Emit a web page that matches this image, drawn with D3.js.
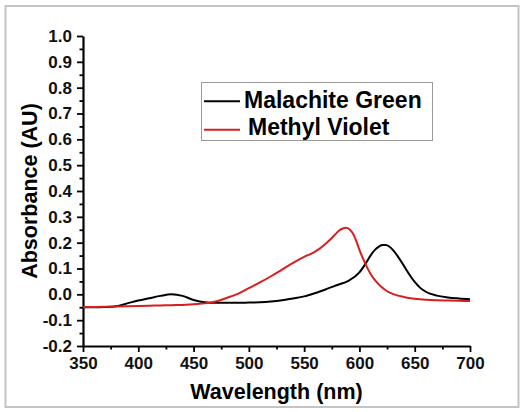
<!DOCTYPE html>
<html>
<head>
<meta charset="utf-8">
<script src="https://cdn.jsdelivr.net/npm/d3@7"></script>
<style>
  html, body { margin: 0; padding: 0; background: #fff; }
  svg { display: block; font-family: Arial, "Liberation Sans", sans-serif; }
</style>
</head>
<body>
<div id="chart"></div>
<script>
// spectra (nm, absorbance)
const wavelengthsMG = [350, 360, 370, 380, 390, 400, 410, 420, 430, 440, 450, 460, 470, 480, 490, 500, 510, 520, 530, 540, 550, 560, 570, 580, 590, 600, 605, 610, 614, 618, 621, 624, 627, 631, 635, 640, 645, 650, 655, 660, 670, 680, 690, 700];
const malachiteGreen = [-0.050, -0.050, -0.049, -0.046, -0.035, -0.024, -0.015, -0.006, 0.000, -0.006, -0.022, -0.031, -0.033, -0.033, -0.033, -0.032, -0.031, -0.028, -0.023, -0.016, -0.008, 0.005, 0.020, 0.036, 0.052, 0.085, 0.115, 0.150, 0.172, 0.186, 0.191, 0.191, 0.185, 0.168, 0.145, 0.112, 0.078, 0.048, 0.025, 0.010, -0.005, -0.012, -0.016, -0.019];

const wavelengthsMV = [350, 360, 370, 380, 390, 400, 410, 420, 430, 440, 450, 460, 470, 480, 490, 500, 510, 520, 530, 540, 550, 560, 570, 575, 579, 582, 585, 588, 591, 594, 597, 600, 605, 610, 615, 620, 625, 630, 640, 650, 660, 670, 680, 690, 700];
const methylViolet = [-0.050, -0.049, -0.048, -0.047, -0.046, -0.045, -0.044, -0.043, -0.042, -0.041, -0.038, -0.035, -0.028, -0.014, 0.002, 0.024, 0.046, 0.070, 0.096, 0.122, 0.145, 0.165, 0.198, 0.218, 0.236, 0.248, 0.255, 0.258, 0.252, 0.236, 0.208, 0.172, 0.122, 0.080, 0.050, 0.028, 0.012, 0.002, -0.010, -0.017, -0.021, -0.023, -0.024, -0.025, -0.026];

const xTicks = [350, 400, 450, 500, 550, 600, 650, 700];
const yTicks = [-0.2, -0.1, 0.0, 0.1, 0.2, 0.3, 0.4, 0.5, 0.6, 0.7, 0.8, 0.9, 1.0];
const seriesNames = ["Malachite Green", "Methyl Violet"];
const seriesColors = ["#000000", "#d81e1e"];

const W = 522, H = 412;
const margin = { top: 36, left: 83, right: 52, bottom: 66 };
const FONT = 'Arial, "Liberation Sans", sans-serif';

const svg = d3.select("#chart").append("svg")
  .attr("width", W)
  .attr("height", H);

// outer frame
svg.append("rect")
  .attr("x", 5.5).attr("y", 6)
  .attr("width", 513).attr("height", 401)
  .attr("fill", "#fff")
  .attr("stroke", "#c4c4c4")
  .attr("stroke-width", 2);

const x = d3.scaleLinear().domain([350, 700]).range([margin.left, W - margin.right]);
const y = d3.scaleLinear().domain([-0.2, 1.0]).range([H - margin.bottom, margin.top]);

// minor ticks first, majors on top
svg.append("g")
  .attr("transform", `translate(0,${H - margin.bottom})`)
  .call(d3.axisBottom(x).tickValues(d3.range(375, 700, 50)).tickSize(3.5).tickFormat(""))
  .call(g => g.select(".domain").remove())
  .selectAll("line").attr("stroke-width", 1.8);

svg.append("g")
  .attr("transform", `translate(${margin.left},0)`)
  .call(d3.axisLeft(y).tickValues(d3.range(-0.15, 1.0, 0.1)).tickSize(3.5).tickFormat(""))
  .call(g => g.select(".domain").remove())
  .selectAll("line").attr("stroke-width", 1.8);

const xAxis = svg.append("g")
  .attr("transform", `translate(0,${H - margin.bottom})`)
  .call(d3.axisBottom(x).tickValues(xTicks).tickSize(6).tickSizeOuter(0).tickPadding(5).tickFormat(d3.format("d")));

const yAxis = svg.append("g")
  .attr("transform", `translate(${margin.left},0)`)
  .call(d3.axisLeft(y).tickValues(yTicks).tickSize(6).tickSizeOuter(0).tickPadding(5).tickFormat(d3.format(".1f")));

[xAxis, yAxis].forEach(g => {
  g.attr("font-family", FONT);
  g.select(".domain").attr("stroke-width", 2.2);
  g.selectAll("line").attr("stroke-width", 1.8);
  g.selectAll("text")
    .attr("fill", "#111")
    .style("font-family", FONT)
    .style("font-size", "17px")
    .style("font-weight", "bold");
});
yAxis.selectAll("text").text(d => d3.format(".1f")(d).replace("−", "-"));

// curves
const line = d3.line()
  .x(d => x(d[0]))
  .y(d => y(d[1]))
  .curve(d3.curveMonotoneX);

const mg = wavelengthsMG.map((w, i) => [w, malachiteGreen[i]]);
const mv = wavelengthsMV.map((w, i) => [w, methylViolet[i]]);

svg.append("path").datum(mg)
  .attr("d", line)
  .attr("fill", "none")
  .attr("stroke", seriesColors[0])
  .attr("stroke-width", 2);

svg.append("path").datum(mv)
  .attr("d", line)
  .attr("fill", "none")
  .attr("stroke", seriesColors[1])
  .attr("stroke-width", 2);

// axis titles
svg.append("text")
  .attr("x", (x.range()[0] + x.range()[1]) / 2)
  .attr("y", 399)
  .attr("text-anchor", "middle")
  .style("font-size", "21.5px")
  .style("font-weight", "bold")
  .text("Wavelength (nm)");

svg.append("text")
  .attr("transform", `translate(37,${(y.range()[0] + y.range()[1]) / 2}) rotate(-90)`)
  .attr("text-anchor", "middle")
  .style("font-size", "21.5px")
  .style("font-weight", "bold")
  .text("Absorbance (AU)");

// legend
const legend = svg.append("g");
legend.append("rect")
  .attr("x", 201.5).attr("y", 82.5)
  .attr("width", 231).attr("height", 58)
  .attr("fill", "#fff")
  .attr("stroke", "#9a9a9a")
  .attr("stroke-width", 1);

const legendRows = [
  { y: 101.3, textX: 244, baseline: 107.5 },
  { y: 129.7, textX: 248, baseline: 135 }
];
seriesNames.forEach((name, i) => {
  legend.append("line")
    .attr("x1", 204).attr("x2", 240)
    .attr("y1", legendRows[i].y).attr("y2", legendRows[i].y)
    .attr("stroke", seriesColors[i])
    .attr("stroke-width", 2);
  legend.append("text")
    .attr("x", legendRows[i].textX)
    .attr("y", legendRows[i].baseline)
    .style("font-size", "23px")
    .style("font-weight", "bold")
    .text(name);
});
</script>
</body>
</html>
